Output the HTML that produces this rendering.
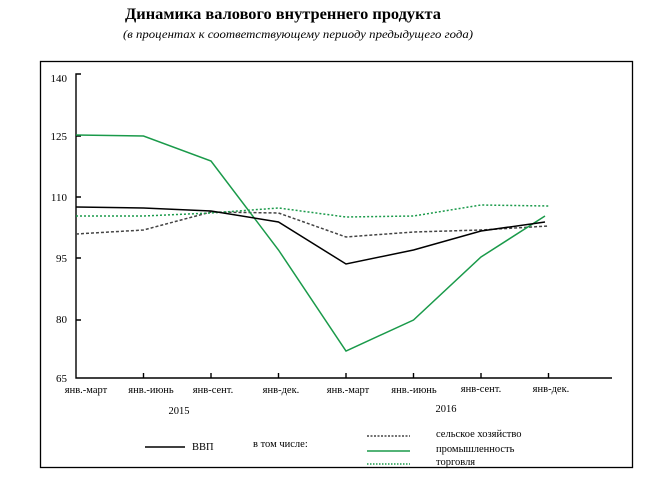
<!DOCTYPE html>
<html><head><meta charset="utf-8"><style>
body{margin:0;background:#fff;}
svg{display:block;font-family:"Liberation Serif",serif;}
</style></head><body>
<svg width="664" height="499" viewBox="0 0 664 499" xmlns="http://www.w3.org/2000/svg">
<text x="283" y="19" font-size="15.5" font-weight="bold" text-anchor="middle" textLength="316" lengthAdjust="spacingAndGlyphs">Динамика валового внутреннего продукта</text>
<text x="298" y="38" font-size="11.5" font-style="italic" text-anchor="middle" textLength="350" lengthAdjust="spacingAndGlyphs">(в процентах к соответствующему периоду предыдущего года)</text>
<rect x="40.5" y="61.5" width="592" height="406" fill="none" stroke="#000" stroke-width="1.3"/>
<g font-size="11" text-anchor="end">
<text x="67" y="82">140</text><text x="67" y="140">125</text><text x="67" y="201">110</text><text x="67" y="262">95</text><text x="67" y="323">80</text><text x="67" y="382">65</text>
</g>
<g stroke="#000" stroke-width="1.4" fill="none">
<path d="M81 74H76V378H612"/>
<path d="M76 136H81M76 197H81M76 258H81M76 320H81"/>
<path d="M143.5 378V373M211 378V373M278.5 378V373M346 378V373M413.5 378V373M481 378V373M548.5 378V373"/>
</g>
<g font-size="10.5" text-anchor="middle">
<text x="86" y="393">янв.-март</text><text x="151" y="393">янв.-июнь</text><text x="213" y="393">янв-сент.</text><text x="281" y="393">янв-дек.</text><text x="348" y="393">янв.-март</text><text x="414" y="393">янв.-июнь</text><text x="481" y="392">янв-сент.</text><text x="551" y="392">янв-дек.</text>
<text x="179" y="414">2015</text><text x="446" y="412">2016</text>
</g>
<g fill="none" stroke-width="1.5">
<polyline stroke="#444" stroke-dasharray="3,2" points="76,234 143.5,230 211,212 278.5,213 346,237 413.5,232 481,230 548.5,226"/>
<polyline stroke="#1a9a4a" stroke-dasharray="2,2" points="76,216 143.5,216 211,213 278.5,208 346,217 413.5,216 481,205 548.5,206"/>
<polyline stroke="#1a9a4a" points="76,135 143.5,136 211,161 278.5,250 346,351 413.5,320 481,257 545,216"/>
<polyline stroke="#000" points="76,207 143.5,208 211,211 278.5,222 346,264 413.5,250 481,231 545,222"/>
</g>
<g stroke-width="1.4">
<line x1="145" y1="447" x2="185" y2="447" stroke="#000"/>
<line x1="367" y1="436" x2="410" y2="436" stroke="#444" stroke-dasharray="2,1.5"/>
<line x1="367" y1="451" x2="410" y2="451" stroke="#1a9a4a"/>
<line x1="367" y1="464" x2="410" y2="464" stroke="#1a9a4a" stroke-dasharray="1.5,1.5"/>
</g>
<g font-size="10.5">
<text x="192" y="450">ВВП</text><text x="253" y="447">в том числе:</text>
<text x="436" y="437">сельское хозяйство</text><text x="436" y="452">промышленность</text><text x="436" y="465">торговля</text>
</g>
</svg>
</body></html>
